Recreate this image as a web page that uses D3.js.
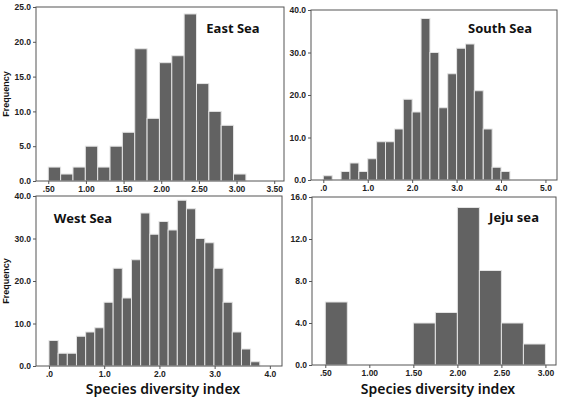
<!DOCTYPE html>
<html>
<head>
<meta charset="utf-8">
<script src="https://cdn.jsdelivr.net/npm/d3@7"></script>
<style>
  body { margin: 0; background: #fff; }
  svg { display: block; }
  .tick text { font-family: "Liberation Sans", Arial, sans-serif; font-weight: bold; font-size: 8.5px; fill: #222; }
  .title { font-family: "Noto Sans", sans-serif; font-weight: bold; font-size: 13px; fill: #111; }
  .xlabel { font-family: "Noto Sans", sans-serif; font-weight: 600; font-size: 14px; fill: #111; }
  .ylabel { font-family: "Liberation Sans", Arial, sans-serif; font-weight: bold; font-size: 9px; fill: #111; }
</style>
</head>
<body>
<div id="chart"></div>
<script>
// histogram counts, one array per sea
const eastCounts  = [2, 1, 2, 5, 2, 5, 7, 19, 9, 17, 18, 24, 14, 10, 8, 1];
const southCounts = [1, 0, 2, 4, 2, 5, 9, 9, 12, 19, 16, 38, 30, 17, 25, 31, 32, 21, 12, 3, 2];
const westCounts  = [6, 3, 3, 7, 8, 9, 15, 23, 16, 25, 36, 31, 34, 32, 39, 37, 30, 29, 23, 15, 8, 4, 1];
const jejuCounts  = [6, 0, 0, 0, 4, 5, 15, 9, 4, 2];

// bin start and bin width (diversity index units)
const eastBins  = { start: 0.5, width: 0.164 };
const southBins = { start: 0.0, width: 0.2 };
const westBins  = { start: 0.0, width: 0.166 };
const jejuBins  = { start: 0.5, width: 0.25 };

// axis ticks
const eastXTicks  = [0.5, 1.0, 1.5, 2.0, 2.5, 3.0, 3.5];
const southXTicks = [0, 1, 2, 3, 4, 5];
const westXTicks  = [0, 1, 2, 3, 4];
const jejuXTicks  = [0.5, 1.0, 1.5, 2.0, 2.5, 3.0];
const eastYTicks  = [0, 5, 10, 15, 20, 25];
const southYTicks = [0, 10, 20, 30, 40];
const westYTicks  = [0, 10, 20, 30, 40];
const jejuYTicks  = [0, 4, 8, 12, 16];

const titles = ["East Sea", "South Sea", "West Sea", "Jeju sea"];

const W = 562, H = 399;
const svg = d3.select("#chart").append("svg").attr("width", W).attr("height", H);

// strip leading zero like SPSS does (".50", ".0")
const noLead = f => v => d3.format(f)(v).replace(/^0\./, ".");

const panels = [
  { title: titles[0], counts: eastCounts, bins: eastBins, xTicks: eastXTicks, yTicks: eastYTicks,
    xFmt: noLead(".2f"), box: [36, 7, 284, 181], xDomain: [0.337, 3.63], yMax: 25,
    titleX: 233, titleY: 33, yLabel: true, xLabel: false },
  { title: titles[1], counts: southCounts, bins: southBins, xTicks: southXTicks, yTicks: southYTicks,
    xFmt: noLead(".1f"), box: [311, 10, 557, 180], xDomain: [-0.277, 5.26], yMax: 40,
    titleX: 500, titleY: 33, yLabel: false, xLabel: false },
  { title: titles[2], counts: westCounts, bins: westBins, xTicks: westXTicks, yTicks: westYTicks,
    xFmt: noLead(".1f"), box: [36, 196, 282, 366], xDomain: [-0.235, 4.22], yMax: 40,
    titleX: 83, titleY: 223, yLabel: true, xLabel: true },
  { title: titles[3], counts: jejuCounts, bins: jejuBins, xTicks: jejuXTicks, yTicks: jejuYTicks,
    xFmt: noLead(".2f"), box: [312, 197, 556, 365], xDomain: [0.349, 3.12], yMax: 16,
    titleX: 514, titleY: 222, yLabel: false, xLabel: true }
];

panels.forEach(p => {
  const [x0, y0, x1, y1] = p.box;
  const x = d3.scaleLinear().domain(p.xDomain).range([x0, x1]);
  const y = d3.scaleLinear().domain([0, p.yMax]).range([y1, y0]);

  const g = svg.append("g");

  const data = p.counts.map((c, i) => ({
    lo: p.bins.start + i * p.bins.width,
    hi: p.bins.start + (i + 1) * p.bins.width,
    n: c
  })).filter(d => d.n > 0);

  g.selectAll("rect.bar")
    .data(data)
    .enter()
    .append("rect")
    .attr("class", "bar")
    .attr("x", d => x(d.lo))
    .attr("y", d => y(d.n))
    .attr("width", d => x(d.hi) - x(d.lo))
    .attr("height", d => y(0) - y(d.n))
    .style("fill", "#626262")
    .style("stroke", "#e4e4e4")
    .style("stroke-width", 1);

  // frame
  g.append("rect")
    .attr("x", x0).attr("y", y0)
    .attr("width", x1 - x0).attr("height", y1 - y0)
    .style("fill", "none")
    .style("stroke", "#555")
    .style("stroke-width", 1);

  const xAxis = d3.axisBottom(x).tickValues(p.xTicks).tickFormat(p.xFmt).tickSize(3).tickPadding(2);
  const yAxis = d3.axisLeft(y).tickValues(p.yTicks).tickFormat(d3.format(".1f")).tickSize(3).tickPadding(2);

  g.append("g")
    .attr("transform", `translate(0, ${y1})`)
    .call(xAxis)
    .call(a => a.select(".domain").remove())
    .call(a => a.selectAll(".tick line").attr("stroke", "#555"));

  g.append("g")
    .attr("transform", `translate(${x0}, 0)`)
    .call(yAxis)
    .call(a => a.select(".domain").remove())
    .call(a => a.selectAll(".tick line").attr("stroke", "#555"));

  g.append("text")
    .attr("class", "title")
    .attr("x", p.titleX)
    .attr("y", p.titleY)
    .attr("text-anchor", "middle")
    .text(p.title);

  if (p.yLabel) {
    g.append("text")
      .attr("class", "ylabel")
      .attr("transform", `translate(9, ${(y0 + y1) / 2}) rotate(-90)`)
      .attr("text-anchor", "middle")
      .text("Frequency");
  }

  if (p.xLabel) {
    g.append("text")
      .attr("class", "xlabel")
      .attr("x", (x0 + x1) / 2 + 4)
      .attr("y", 394)
      .attr("text-anchor", "middle")
      .text("Species diversity index");
  }
});
</script>
</body>
</html>
